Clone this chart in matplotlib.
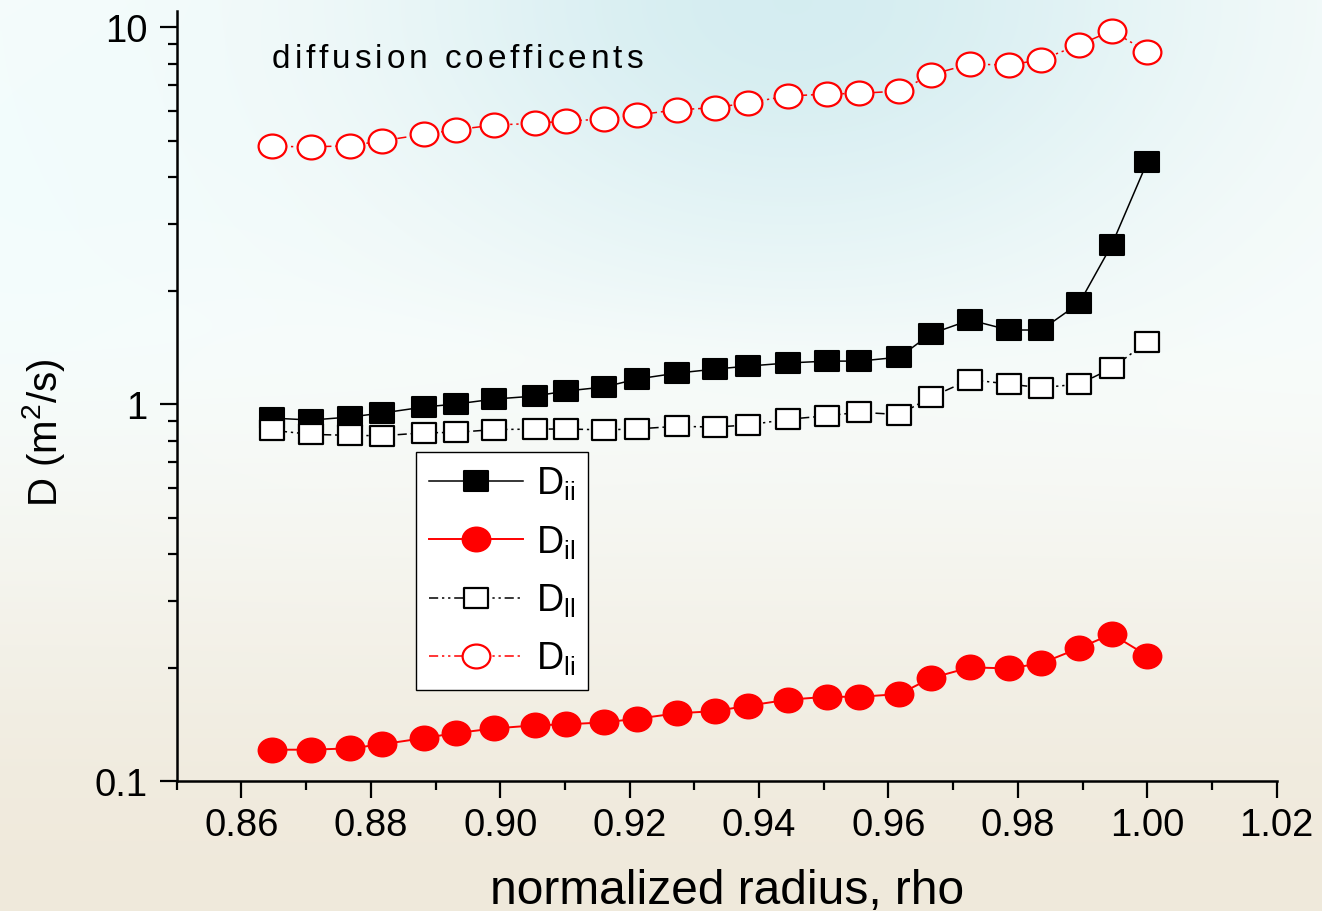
import numpy as np
import matplotlib
matplotlib.use("Agg")
import matplotlib.pyplot as plt
import matplotlib.transforms as mtransforms
from matplotlib.path import Path
from matplotlib.ticker import MultipleLocator, LogLocator, FuncFormatter, NullFormatter
from matplotlib.font_manager import FontProperties, findfont
from matplotlib.ft2font import FT2Font

plt.rcParams['font.family'] = ['Liberation Sans', 'DejaVu Sans']
plt.rcParams['mathtext.fontset'] = 'custom'
plt.rcParams['mathtext.rm'] = 'Liberation Sans'
plt.rcParams['mathtext.it'] = 'Liberation Sans:italic'

# normalized radius
rho = [0.8647, 0.8708, 0.8768, 0.8818, 0.8882, 0.8931, 0.8991, 0.9053, 0.9102,
       0.9161, 0.9211, 0.9273, 0.9332, 0.9383, 0.9444, 0.9505, 0.9555, 0.9617,
       0.9665, 0.9726, 0.9786, 0.9836, 0.9895, 0.9945, 1.0000]

D_ii = [0.918, 0.907, 0.924, 0.947, 0.982, 1.000, 1.031, 1.050, 1.083, 1.110,
        1.165, 1.208, 1.238, 1.261, 1.285, 1.300, 1.300, 1.332, 1.534, 1.671,
        1.572, 1.572, 1.853, 2.642, 4.385]

D_il = [0.1211, 0.1211, 0.1221, 0.1252, 0.1300, 0.1340, 0.1379, 0.1405, 0.1414,
        0.1431, 0.1463, 0.1512, 0.1533, 0.1584, 0.1643, 0.1673, 0.1673, 0.1701,
        0.1873, 0.2002, 0.1990, 0.2052, 0.2253, 0.2454, 0.2150]

D_ll = [0.852, 0.831, 0.826, 0.824, 0.839, 0.841, 0.856, 0.858, 0.859, 0.854,
        0.859, 0.873, 0.869, 0.880, 0.911, 0.931, 0.951, 0.938, 1.042, 1.161,
        1.130, 1.105, 1.130, 1.244, 1.463]

D_li = [4.826, 4.813, 4.842, 4.994, 5.193, 5.341, 5.497, 5.554, 5.633, 5.702,
        5.843, 6.035, 6.109, 6.299, 6.561, 6.643, 6.671, 6.766, 7.472, 7.979,
        7.930, 8.191, 8.976, 9.777, 8.600]

labels = [r'D$_\mathrm{ii}$', r'D$_\mathrm{il}$', r'D$_\mathrm{ll}$', r'D$_\mathrm{li}$']
note = 'diffusion coefficents'


def spaced_text(ax, x, y, s, size, extra):
    # draw text char by char with extra tracking (points)
    font = FT2Font(findfont(FontProperties(family='Liberation Sans')))
    font.set_size(size, 72)
    off = 0.0
    for c in s:
        if c != ' ':
            tr = mtransforms.offset_copy(ax.transAxes, ax.figure, x=off, y=0, units='points')
            ax.text(x, y, c, transform=tr, fontsize=size, ha='left', va='baseline')
        g = font.load_char(ord(c))
        off += g.linearHoriAdvance / 65536 + extra


# slightly squashed markers (the original is stretched horizontally)
squash = mtransforms.Affine2D().scale(1.0, 0.86)
ellipse = Path.unit_circle().transformed(squash)
box = Path.unit_rectangle().transformed(mtransforms.Affine2D().translate(-0.5, -0.5) + squash)

fig = plt.figure(figsize=(13.22, 9.12), dpi=100)

# soft gradient background
H, W = 228, 330
X, Y = np.meshgrid(np.linspace(0, 1, W), np.linspace(0, 1, H))
top = np.array([0.975, 0.99, 0.985])
bottom = np.array([0.94, 0.915, 0.86])
t = np.clip((Y - 0.33) / 0.67, 0, 1)
t = t * t * (3 - 2 * t)
img = top[None, None, :] * (1 - t[..., None]) + bottom[None, None, :] * t[..., None]
arc = 0.33 + 0.06 * X
above = 1 / (1 + np.exp((Y - arc) / 0.02))
blob = np.exp(-((X - 0.6) / 0.32) ** 2 - (Y / 0.32) ** 2) * (0.35 + 0.65 * above)
tint = np.array([-0.14, -0.06, -0.04])
img = img + blob[..., None] * tint[None, None, :]
leftc = np.exp(-(X / 0.2) ** 2) * np.exp(-((Y - 0.2) / 0.3) ** 2)
img = img + leftc[..., None] * np.array([-0.02, 0.0, 0.005])[None, None, :]
img = np.clip(img, 0, 1)
bg = fig.add_axes([0, 0, 1, 1], zorder=-1)
bg.imshow(img, aspect='auto', extent=[0, 1, 0, 1], interpolation='bilinear')
bg.axis('off')

ax = fig.add_axes([0.1337, 0.1425, 0.832, 0.8443])
ax.patch.set_alpha(0)

ax.plot(rho, D_ii, color='black', lw=1.1, marker=box, ms=17,
        mfc='black', mec='black', mew=1.5, label=labels[0])
ax.plot(rho, D_il, color='red', lw=1.4, marker=ellipse, ms=20,
        mfc='red', mec='red', mew=1.5, label=labels[1])
ax.plot(rho, D_ll, color='black', lw=1.1, ls=(0, (6, 2.5, 1.5, 2.5, 1.5, 2.5)),
        marker=box, ms=17, mfc='white', mec='black', mew=1.6, label=labels[2])
ax.plot(rho, D_li, color='red', lw=1.1, ls=(0, (6, 2.5, 1.5, 2.5, 1.5, 2.5)),
        marker=ellipse, ms=20, mfc='white', mec='red', mew=1.6, label=labels[3])

ax.set_yscale('log')
ax.set_xlim(0.85, 1.02)
ax.set_ylim(0.1, 11.03)

ax.xaxis.set_major_locator(MultipleLocator(0.02))
ax.xaxis.set_minor_locator(MultipleLocator(0.01))
ax.xaxis.set_major_formatter(FuncFormatter(lambda v, p: f'{v:.2f}'))
ax.yaxis.set_major_locator(LogLocator(base=10, numticks=10))
ax.yaxis.set_minor_locator(LogLocator(base=10, subs=np.arange(2, 10), numticks=20))
ax.yaxis.set_major_formatter(FuncFormatter(lambda v, p: f'{v:g}'))
ax.yaxis.set_minor_formatter(NullFormatter())

for side in ['top', 'right']:
    ax.spines[side].set_visible(False)
for side in ['left', 'bottom']:
    ax.spines[side].set_linewidth(1.8)

ax.tick_params(which='major', direction='out', length=12, width=1.6,
               labelsize=27.5, pad=7)
ax.tick_params(axis='y', which='major', pad=9)
ax.tick_params(which='minor', direction='out', length=6.5, width=1.6)

ax.set_xlabel('normalized radius, rho', fontsize=34.5)
ax.xaxis.set_label_coords(0.5, -0.113)
fig.text(0.033, 0.525, 'D (m$^\\mathrm{2}$/s)', rotation=90, fontsize=29,
         ha='center', va='center')

spaced_text(ax, 0.0866, 0.927, note, 24, 2.8)

leg = ax.legend(loc='upper left', bbox_to_anchor=(0.2175, 0.4273),
                fontsize=27, frameon=True, fancybox=False, framealpha=1,
                edgecolor='black', handlelength=2.5, handletextpad=0.35,
                borderpad=0.35, labelspacing=0.56, borderaxespad=0)
leg.get_frame().set_linewidth(1.0)

fig.savefig('out.png', dpi=100)
